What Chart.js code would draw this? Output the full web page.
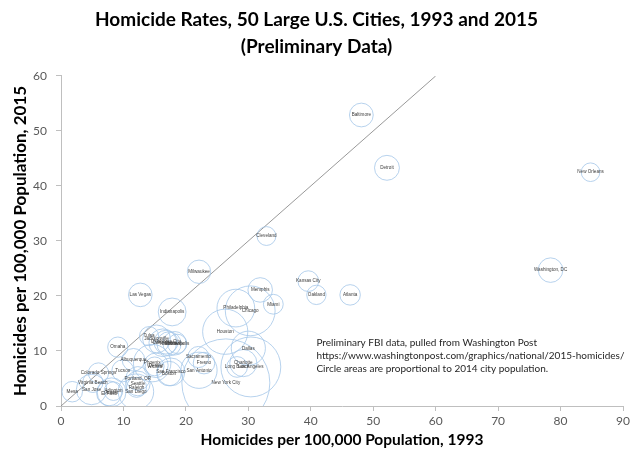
<!DOCTYPE html>
<html>
<head>
<meta charset="utf-8">
<script src="https://cdn.jsdelivr.net/npm/chart.js@4.4.1/dist/chart.umd.min.js"></script>
<style>
  html, body { margin: 0; padding: 0; background: #fff; }
</style>
</head>
<body>
<canvas id="bubble-chart" width="640" height="465"></canvas>
<script>
// city data (rates per 100,000; population in millions, 2014)
const cities = [
  'Baltimore', 'Detroit', 'New Orleans', 'Cleveland', 'Washington, DC', 'Milwaukee',
  'Kansas City', 'Memphis', 'Oakland', 'Atlanta', 'Miami', 'Las Vegas', 'Indianapolis',
  'Philadelphia', 'Chicago', 'Houston', 'Dallas', 'Omaha', 'Sacramento', 'Fresno',
  'San Antonio', 'New York City', 'Charlotte', 'Long Beach', 'Los Angeles', 'Tulsa',
  'Jacksonville', 'Columbus', 'Nashville', 'Louisville', 'Oklahoma City', 'Minneapolis',
  'Albuquerque', 'Phoenix', 'Denver', 'Wichita', 'San Francisco', 'Boston', 'Tucson',
  'Portland, OR', 'Seattle', 'Raleigh', 'San Diego', 'Colorado Springs', 'Virginia Beach',
  'Mesa', 'San Jose', 'Austin', 'Arlington', 'El Paso'
];
const rate1993 = [
  48.1, 52.2, 84.8, 32.9, 78.4, 22.1,
  39.6, 31.9, 40.9, 46.3, 34.0, 12.7, 17.8,
  28.0, 30.3, 26.3, 30.0, 9.1, 22.0, 22.9,
  22.1, 26.4, 29.2, 28.2, 30.4, 14.1,
  15.3, 16.3, 17.3, 18.2, 16.8, 18.6,
  11.6, 14.6, 15.2, 15.0, 17.6, 17.3, 9.9,
  12.3, 12.3, 12.1, 12.0, 6.0, 5.1,
  1.8, 4.9, 8.1, 8.4, 7.7
];
const rate2015 = [
  52.9, 43.3, 42.5, 30.9, 24.7, 24.4,
  22.7, 21.1, 20.2, 20.2, 18.5, 20.2, 17.1,
  17.8, 17.3, 13.5, 10.5, 10.7, 8.9, 7.8,
  6.5, 4.2, 7.8, 7.1, 7.1, 12.7,
  12.2, 11.5, 11.3, 11.4, 11.6, 11.3,
  8.4, 7.8, 7.4, 7.2, 6.2, 5.9, 6.4,
  5.0, 4.1, 3.4, 2.6, 6.0, 4.3,
  2.6, 3.0, 2.5, 2.7, 2.3
];
const population2014 = [
  0.62, 0.68, 0.38, 0.39, 0.66, 0.60,
  0.47, 0.66, 0.41, 0.46, 0.43, 0.61, 0.85,
  1.56, 2.72, 2.24, 1.28, 0.45, 0.49, 0.51,
  1.44, 8.49, 0.81, 0.47, 3.93, 0.40,
  0.85, 0.84, 0.64, 0.61, 0.62, 0.41,
  0.56, 1.54, 0.66, 0.39, 0.85, 0.66, 0.53,
  0.62, 0.67, 0.44, 1.38, 0.45, 0.45,
  0.46, 1.02, 0.91, 0.38, 0.68
];
const xTicks = [0, 10, 20, 30, 40, 50, 60, 70, 80, 90];
const yTicks = [0, 10, 20, 30, 40, 50, 60];
const equalLine = [{x: 0, y: 0}, {x: 60, y: 60}];
const notes = [
  'Preliminary FBI data, pulled from Washington Post',
  'https://www.washingtonpost.com/graphics/national/2015-homicides/',
  'Circle areas are proportional to 2014 city population.'
];

// circle area proportional to population
const bubbles = cities.map((c, i) => ({
  x: rate1993[i],
  y: rate2015[i],
  r: 15.1 * Math.sqrt(population2014[i])
}));

// bubbles get clipped at the plot edge like the original, so don't pad the layout for them
Chart.BubbleController.prototype.getMaxOverflow = function() { return 0; };

const cityLabels = {
  id: 'cityLabels',
  afterDatasetsDraw(chart) {
    const ctx = chart.ctx;
    const meta = chart.getDatasetMeta(0);
    const xs = chart.scales.x, ys = chart.scales.y;
    ctx.save();
    ctx.font = '4.6px "Liberation Sans"';
    ctx.fillStyle = '#404040';
    ctx.textAlign = 'center';
    ctx.textBaseline = 'middle';
    meta.data.forEach((pt, i) => ctx.fillText(cities[i], pt.x, pt.y));

    // source note
    ctx.font = '10px Lato';
    ctx.textAlign = 'left';
    ctx.fillStyle = '#262626';
    notes.forEach((t, i) => {
      ctx.fillText(t, xs.getPixelForValue(40.9), ys.getPixelForValue(11.45 - i * 2.35));
    });
    ctx.restore();
  }
};

new Chart(document.getElementById('bubble-chart'), {
  type: 'bubble',
  data: {
    datasets: [
      {
        data: bubbles,
        backgroundColor: 'rgba(0,0,0,0)',
        borderColor: '#a5c6e8',
        borderWidth: 0.8
      },
      {
        type: 'line',
        data: equalLine,
        borderColor: '#7f7f7f',
        borderWidth: 0.8,
        pointRadius: 0,
        fill: false
      }
    ]
  },
  options: {
    responsive: false,
    animation: false,
    events: [],
    layout: {
      padding: {left: 10, right: 17, top: 0, bottom: 0}
    },
    plugins: {
      legend: { display: false },
      tooltip: { enabled: false },
      title: {
        display: true,
        text: ['Homicide Rates, 50 Large U.S. Cities, 1993 and 2015', '(Preliminary Data)'],
        color: '#000',
        font: { family: 'Lato', size: 19, weight: 'bold', lineHeight: 1.42 },
        padding: { top: 6.5, bottom: 15.5 }
      }
    },
    scales: {
      x: {
        type: 'linear',
        min: 0,
        max: 90,
        afterBuildTicks: axis => { axis.ticks = xTicks.map(v => ({value: v})); },
        afterFit: axis => { axis.height = 59; },
        border: { display: true, color: '#bfbfbf' },
        grid: { drawOnChartArea: false, drawTicks: true, tickLength: 5, color: '#bfbfbf' },
        ticks: { padding: 3, color: '#595959', font: { family: 'Lato', size: 12 } },
        title: {
          display: true,
          text: 'Homicides per 100,000 Population, 1993',
          color: '#000',
          font: { family: 'Lato', size: 15.5, weight: 'bold', lineHeight: 1.2 },
          padding: { top: 0, bottom: 16 }
        }
      },
      y: {
        type: 'linear',
        min: 0,
        max: 60,
        afterBuildTicks: axis => { axis.ticks = yTicks.map(v => ({value: v})); },
        afterFit: axis => { axis.width = 51; },
        border: { display: true, color: '#bfbfbf' },
        grid: { drawOnChartArea: false, drawTicks: true, tickLength: 5, color: '#bfbfbf' },
        ticks: { padding: 9, color: '#595959', font: { family: 'Lato', size: 12 } },
        title: {
          display: true,
          text: 'Homicides per 100,000 Population, 2015',
          color: '#000',
          font: { family: 'Lato', size: 17, weight: 'bold', lineHeight: 1.2 },
          padding: { top: 0, bottom: 0 }
        }
      }
    }
  },
  plugins: [cityLabels]
});
</script>
</body>
</html>
